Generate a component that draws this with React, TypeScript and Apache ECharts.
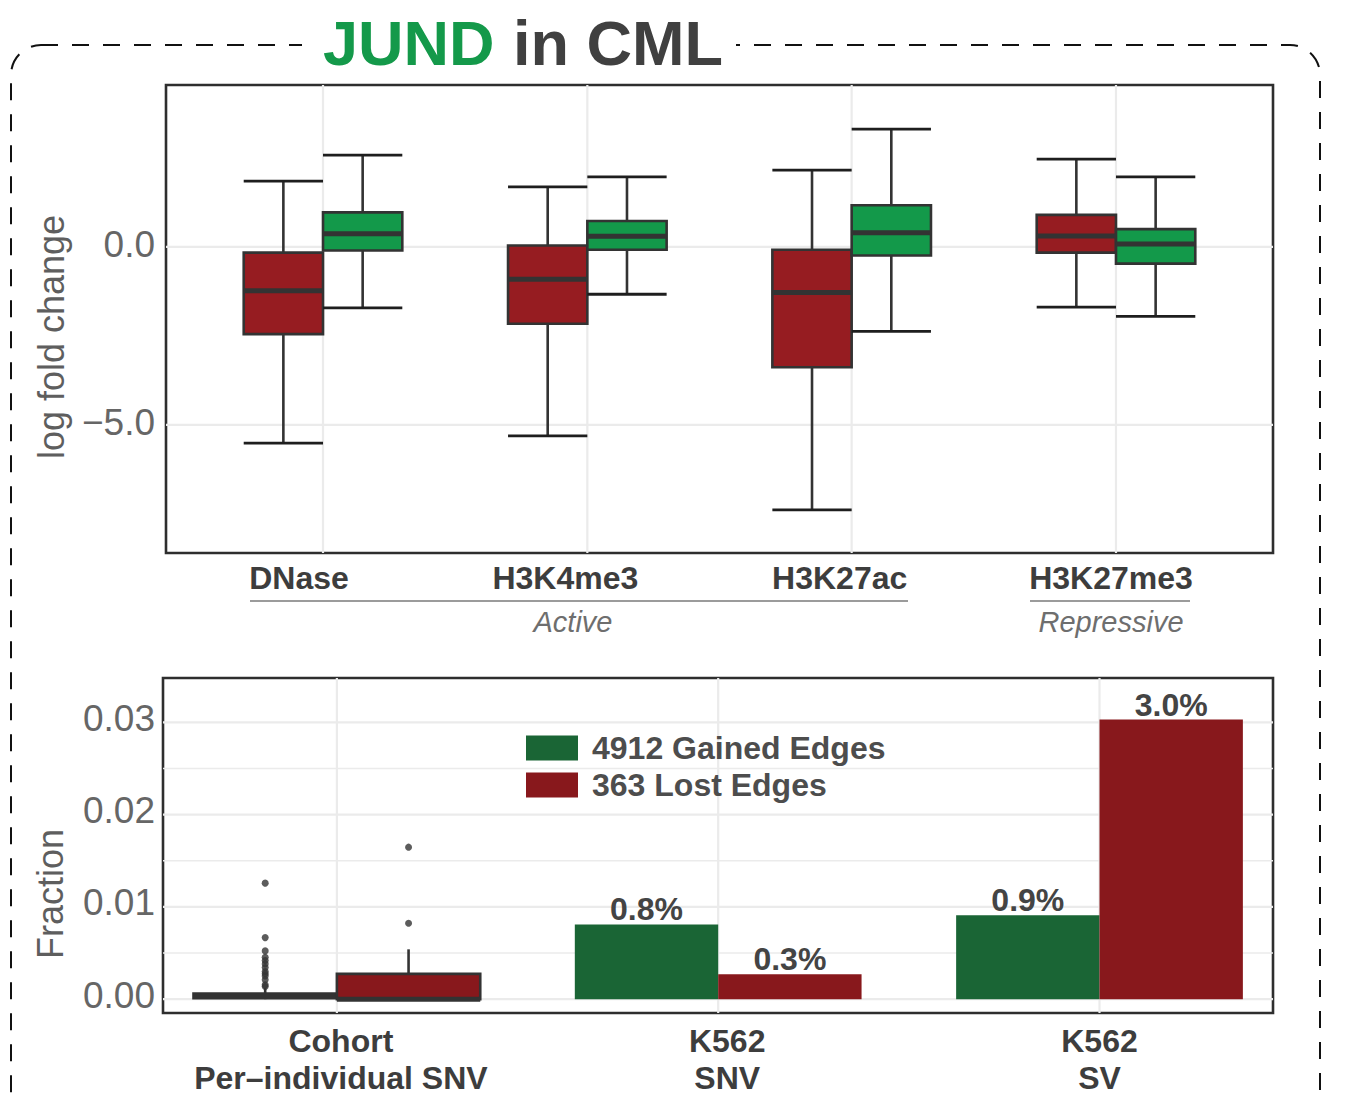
import React, { useEffect, useRef } from "react";
import * as echarts from "echarts";

// ---------- data ----------
const topCategories = ["DNase", "H3K4me3", "H3K27ac", "H3K27me3"];
const topLabelShift = [-24, -22, -12, -5];
const lostLow = [-5.51, -5.31, -7.39, -1.69];
const lostQ1 = [-2.45, -2.16, -3.38, -0.16];
const lostMedian = [-1.23, -0.91, -1.28, 0.31];
const lostQ3 = [-0.16, 0.04, -0.08, 0.9];
const lostHigh = [1.85, 1.69, 2.16, 2.47];
const gainedLow = [-1.71, -1.33, -2.37, -1.95];
const gainedQ1 = [-0.1, -0.08, -0.24, -0.47];
const gainedMedian = [0.37, 0.3, 0.4, 0.08];
const gainedQ3 = [0.97, 0.73, 1.17, 0.5];
const gainedHigh = [2.58, 1.97, 3.31, 1.97];
const topYTicks = [-5, 0];

const bottomCategories = ["Cohort\nPer–individual SNV", "K562\nSNV", "K562\nSV"];
const bottomLabelShift = [4, 9, 0];
const barCategoryIndex = [1, 2];
const gainedFraction = [0.0081, 0.0091];
const lostFraction = [0.0027, 0.0303];
// low, q1, median, q3, high
const cohortGainedBox = [0, 0.0001, 0.0003, 0.0006, 0.0012];
const cohortLostBox = [0, 0, 0, 0.00274, 0.0054];
const cohortGainedOutliers = [0.01257, 0.00667, 0.00523, 0.00455, 0.00418, 0.00382, 0.00342, 0.00299, 0.00275, 0.00252, 0.00209, 0.00155, 0.00137];
const cohortLostOutliers = [0.00823, 0.01647];
const bottomYTicks = [0, 0.01, 0.02, 0.03];
const bottomMinorGrid = [0.005, 0.015, 0.025];

const GAINED = "4912 Gained Edges";
const LOST = "363 Lost Edges";

// ---------- style ----------
const FONT = '"Liberation Sans", Arial, Helvetica, sans-serif';
const TOP_RED = "#961c21";
const TOP_GREEN = "#13994a";
const BAR_GREEN = "#1a6535";
const BAR_RED = "#88181c";
const GRID_COLOR = "#ebebeb";
const STROKE = "#333333";

function boxRenderer(width: number, caps: boolean, fill: string) {
  return (params: any, api: any) => {
    const x = api.value(0);
    const lo = api.coord([x, api.value(1)]);
    const q1 = api.coord([x, api.value(2)]);
    const md = api.coord([x, api.value(3)]);
    const q3 = api.coord([x, api.value(4)]);
    const hi = api.coord([x, api.value(5)]);
    const w = api.size([width, 0])[0];
    const cx = lo[0];
    const half = w / 2;
    const children: any[] = [];
    if (hi[1] < q3[1] - 0.5) {
      children.push({ type: "line", shape: { x1: cx, y1: hi[1], x2: cx, y2: q3[1] }, style: { stroke: STROKE, lineWidth: 2.6 } });
    }
    if (lo[1] > q1[1] + 0.5) {
      children.push({ type: "line", shape: { x1: cx, y1: q1[1], x2: cx, y2: lo[1] }, style: { stroke: STROKE, lineWidth: 2.6 } });
    }
    if (caps) {
      children.push({ type: "line", shape: { x1: cx - half, y1: hi[1], x2: cx + half, y2: hi[1] }, style: { stroke: "#1e1e1e", lineWidth: 2.8 } });
      children.push({ type: "line", shape: { x1: cx - half, y1: lo[1], x2: cx + half, y2: lo[1] }, style: { stroke: "#1e1e1e", lineWidth: 2.8 } });
    }
    children.push({
      type: "rect",
      shape: { x: cx - half, y: q3[1], width: w, height: Math.max(q1[1] - q3[1], 0.5) },
      style: { fill, stroke: STROKE, lineWidth: 2.6 },
    });
    children.push({ type: "line", shape: { x1: cx - half, y1: md[1], x2: cx + half, y2: md[1] }, style: { stroke: STROKE, lineWidth: 5 } });
    return { type: "group", children };
  };
}

function barRenderer(width: number, fill: string) {
  return (params: any, api: any) => {
    const x = api.value(0);
    const v = api.value(1);
    const top = api.coord([x, v]);
    const base = api.coord([x, 0]);
    const w = api.size([width, 0])[0];
    return {
      type: "group",
      children: [
        { type: "rect", shape: { x: top[0] - w / 2, y: top[1], width: w, height: base[1] - top[1] }, style: { fill } },
        {
          type: "text",
          style: {
            text: (v * 100).toFixed(1) + "%",
            x: top[0],
            y: top[1] + 1,
            align: "center",
            verticalAlign: "bottom",
            fill: "#444444",
            fontSize: 32,
            fontWeight: "bold",
            fontFamily: FONT,
          },
        },
      ],
    };
  };
}

function hLineRenderer(params: any, api: any) {
  const cs = params.coordSys;
  const y = api.coord([0, api.value(0)])[1];
  return { type: "line", shape: { x1: cs.x, y1: y, x2: cs.x + cs.width, y2: y }, style: { stroke: GRID_COLOR, lineWidth: api.value(1) } };
}
function vLineRenderer(params: any, api: any) {
  const cs = params.coordSys;
  const x = api.coord([api.value(0), 0])[0];
  return { type: "line", shape: { x1: x, y1: cs.y, x2: x, y2: cs.y + cs.height }, style: { stroke: GRID_COLOR, lineWidth: api.value(1) } };
}

export default function App() {
  const ref = useRef<HTMLDivElement>(null);
  useEffect(() => {
    document.body.style.margin = "0";
    const chart = echarts.init(ref.current!, null, { renderer: "svg" });

    const TOP_W = 0.3;
    const TOP_OFF = 0.15;
    const BOT_W = 0.376;
    const BOT_OFF = 0.188;

    const lostData = topCategories.map((_, i) => [i - TOP_OFF, lostLow[i], lostQ1[i], lostMedian[i], lostQ3[i], lostHigh[i]]);
    const gainedData = topCategories.map((_, i) => [i + TOP_OFF, gainedLow[i], gainedQ1[i], gainedMedian[i], gainedQ3[i], gainedHigh[i]]);

    const topRich: any = {};
    topCategories.forEach((_, i) => {
      const s = topLabelShift[i];
      topRich["c" + i] = {
        fontSize: 32,
        fontWeight: "bold",
        fontFamily: FONT,
        color: "#3d3d3d",
        padding: s < 0 ? [0, -2 * s, 0, 0] : [0, 0, 0, 2 * s],
      };
    });
    const botRich: any = {};
    bottomCategories.forEach((_, i) => {
      const s = bottomLabelShift[i];
      botRich["c" + i] = {
        fontSize: 32,
        fontWeight: "bold",
        fontFamily: FONT,
        color: "#3d3d3d",
        lineHeight: 37,
        padding: s < 0 ? [0, -2 * s, 0, 0] : [0, 0, 0, 2 * s],
      };
    });
    const tickRich = (shift: number) => ({
      t: { fontSize: 37, color: "#666666", fontFamily: FONT, padding: [0, 0, shift, 0] },
    });

    const option: any = {
      animation: false,
      backgroundColor: "#ffffff",
      textStyle: { fontFamily: FONT },
      grid: [
        { left: 166, top: 85, right: 88, bottom: 543, show: true, borderColor: "#2e2e2e", borderWidth: 2.6, backgroundColor: "transparent" },
        { left: 163, top: 678, right: 88, bottom: 83, show: true, borderColor: "#2e2e2e", borderWidth: 2.6, backgroundColor: "transparent" },
      ],
      xAxis: [
        {
          type: "value",
          gridIndex: 0,
          min: -0.594,
          max: 3.594,
          axisLine: { show: false },
          axisTick: { show: false },
          splitLine: { show: false },
          axisLabel: {
            customValues: topCategories.map((_, i) => i),
            margin: 9,
            formatter: (v: number) => {
              const i = Math.round(v);
              return `{c${i}|${topCategories[i]}}`;
            },
            rich: topRich,
          },
        },
        {
          type: "value",
          gridIndex: 1,
          min: -0.456,
          max: 2.455,
          axisLine: { show: false },
          axisTick: { show: false },
          splitLine: { show: false },
          axisLabel: {
            customValues: bottomCategories.map((_, i) => i),
            margin: 9,
            formatter: (v: number) => {
              const i = Math.round(v);
              return bottomCategories[i]
                .split("\n")
                .map((t) => `{c${i}|${t}}`)
                .join("\n");
            },
            rich: botRich,
          },
        },
      ],
      yAxis: [
        {
          type: "value",
          gridIndex: 0,
          min: -8.6,
          max: 4.55,
          axisLine: { show: false },
          axisTick: { show: false },
          splitLine: { show: false },
          axisLabel: {
            customValues: topYTicks,
            margin: 11,
            fontSize: 37,
            color: "#666666",
            fontFamily: FONT,
            formatter: (v: number) => `{t|${v.toFixed(1).replace("-", "\u2212")}}`,
            rich: tickRich(5),
          },
        },
        {
          type: "value",
          gridIndex: 1,
          min: -0.0015,
          max: 0.0348,
          axisLine: { show: false },
          axisTick: { show: false },
          splitLine: { show: false },
          axisLabel: {
            customValues: bottomYTicks,
            margin: 8,
            fontSize: 37,
            color: "#666666",
            fontFamily: FONT,
            formatter: (v: number) => `{t|${v.toFixed(2)}}`,
            rich: tickRich(8),
          },
        },
      ],
      legend: {
        data: [GAINED, LOST],
        orient: "vertical",
        left: 526,
        top: 732,
        itemWidth: 52,
        itemHeight: 25,
        itemGap: 5,
        icon: "rect",
        padding: 0,
        selectedMode: false,
        textStyle: { fontSize: 32, fontWeight: "bold", color: "#4d4d4d", fontFamily: FONT, padding: [0, 0, 0, 9] },
      },
      series: [
        // grid lines, top
        { type: "custom", name: "gridTopH", xAxisIndex: 0, yAxisIndex: 0, silent: true, z: 0, data: topYTicks.map((v) => [v, 2.2]), renderItem: hLineRenderer, clip: true },
        { type: "custom", name: "gridTopV", xAxisIndex: 0, yAxisIndex: 0, silent: true, z: 0, data: topCategories.map((_, i) => [i, 2.2]), renderItem: vLineRenderer, clip: true },
        // grid lines, bottom
        {
          type: "custom",
          name: "gridBotH",
          xAxisIndex: 1,
          yAxisIndex: 1,
          silent: true,
          z: 0,
          data: [...bottomYTicks.map((v) => [v, 2.2]), ...bottomMinorGrid.map((v) => [v, 1.6])],
          renderItem: hLineRenderer,
          clip: true,
        },
        { type: "custom", name: "gridBotV", xAxisIndex: 1, yAxisIndex: 1, silent: true, z: 0, data: bottomCategories.map((_, i) => [i, 2.2]), renderItem: vLineRenderer, clip: true },
        // top boxplots
        { type: "custom", name: "lostTop", xAxisIndex: 0, yAxisIndex: 0, z: 3, data: lostData, renderItem: boxRenderer(TOP_W, true, TOP_RED), itemStyle: { color: TOP_RED } },
        { type: "custom", name: "gainedTop", xAxisIndex: 0, yAxisIndex: 0, z: 3, data: gainedData, renderItem: boxRenderer(TOP_W, true, TOP_GREEN), itemStyle: { color: TOP_GREEN } },
        // bottom bars
        {
          type: "custom",
          name: GAINED,
          xAxisIndex: 1,
          yAxisIndex: 1,
          z: 3,
          itemStyle: { color: BAR_GREEN },
          data: barCategoryIndex.map((c, i) => [c - BOT_OFF, gainedFraction[i]]),
          renderItem: barRenderer(BOT_W, BAR_GREEN),
        },
        {
          type: "custom",
          name: LOST,
          xAxisIndex: 1,
          yAxisIndex: 1,
          z: 3,
          itemStyle: { color: BAR_RED },
          data: barCategoryIndex.map((c, i) => [c + BOT_OFF, lostFraction[i]]),
          renderItem: barRenderer(BOT_W, BAR_RED),
        },
        // cohort boxplots
        {
          type: "custom",
          name: "cohortGained",
          xAxisIndex: 1,
          yAxisIndex: 1,
          z: 3,
          data: [[0 - BOT_OFF, ...cohortGainedBox]],
          renderItem: boxRenderer(BOT_W, false, BAR_GREEN),
        },
        {
          type: "custom",
          name: "cohortLost",
          xAxisIndex: 1,
          yAxisIndex: 1,
          z: 3,
          data: [[0 + BOT_OFF, ...cohortLostBox]],
          renderItem: boxRenderer(BOT_W, false, BAR_RED),
        },
        {
          type: "scatter",
          name: "outliers",
          xAxisIndex: 1,
          yAxisIndex: 1,
          z: 4,
          symbolSize: 7,
          itemStyle: { color: "#333333" },
          data: [
            ...cohortGainedOutliers.map((v) => [0 - BOT_OFF, v]),
            ...cohortLostOutliers.map((v) => [0 + BOT_OFF, v]),
          ],
        },
      ],
      graphic: [
        {
          type: "rect",
          z: -1,
          shape: { x: 11, y: 45, width: 1309, height: 1140, r: 30 },
          style: { fill: "none", stroke: "#111111", lineWidth: 2, lineDash: [17, 14] },
        },
        { type: "rect", z: 0, shape: { x: 302, y: 30, width: 434, height: 30 }, style: { fill: "#ffffff" } },
        {
          type: "text",
          z: 1,
          x: 323,
          y: 43,
          style: { text: "JUND", fill: "#14994a", fontSize: 63, fontWeight: "bold", fontFamily: FONT, align: "left", verticalAlign: "middle" },
        },
        {
          type: "text",
          z: 1,
          x: 513,
          y: 43,
          style: { text: "in CML", fill: "#404040", fontSize: 63, fontWeight: "bold", fontFamily: FONT, align: "left", verticalAlign: "middle" },
        },
        {
          type: "text",
          x: 51,
          y: 337,
          rotation: Math.PI / 2,
          style: { text: "log fold change", fill: "#5e5e5e", fontSize: 36, fontFamily: FONT, align: "center", verticalAlign: "middle" },
        },
        {
          type: "text",
          x: 50,
          y: 894,
          rotation: Math.PI / 2,
          style: { text: "Fraction", fill: "#5e5e5e", fontSize: 36, fontFamily: FONT, align: "center", verticalAlign: "middle" },
        },
        { type: "line", shape: { x1: 250, y1: 601, x2: 908, y2: 601 }, style: { stroke: "#7a7a7a", lineWidth: 1.5 } },
        { type: "line", shape: { x1: 1030, y1: 601, x2: 1190, y2: 601 }, style: { stroke: "#7a7a7a", lineWidth: 1.5 } },
        {
          type: "text",
          x: 573,
          y: 622,
          style: { text: "Active", fill: "#6e6e6e", fontSize: 29, fontStyle: "italic", fontFamily: FONT, align: "center", verticalAlign: "middle" },
        },
        {
          type: "text",
          x: 1111,
          y: 622,
          style: { text: "Repressive", fill: "#6e6e6e", fontSize: 29, fontStyle: "italic", fontFamily: FONT, align: "center", verticalAlign: "middle" },
        },
      ],
    };
    chart.setOption(option);
    return () => chart.dispose();
  }, []);
  return <div ref={ref} style={{ width: 1361, height: 1096, position: "absolute", left: 0, top: 0 }} />;
}
